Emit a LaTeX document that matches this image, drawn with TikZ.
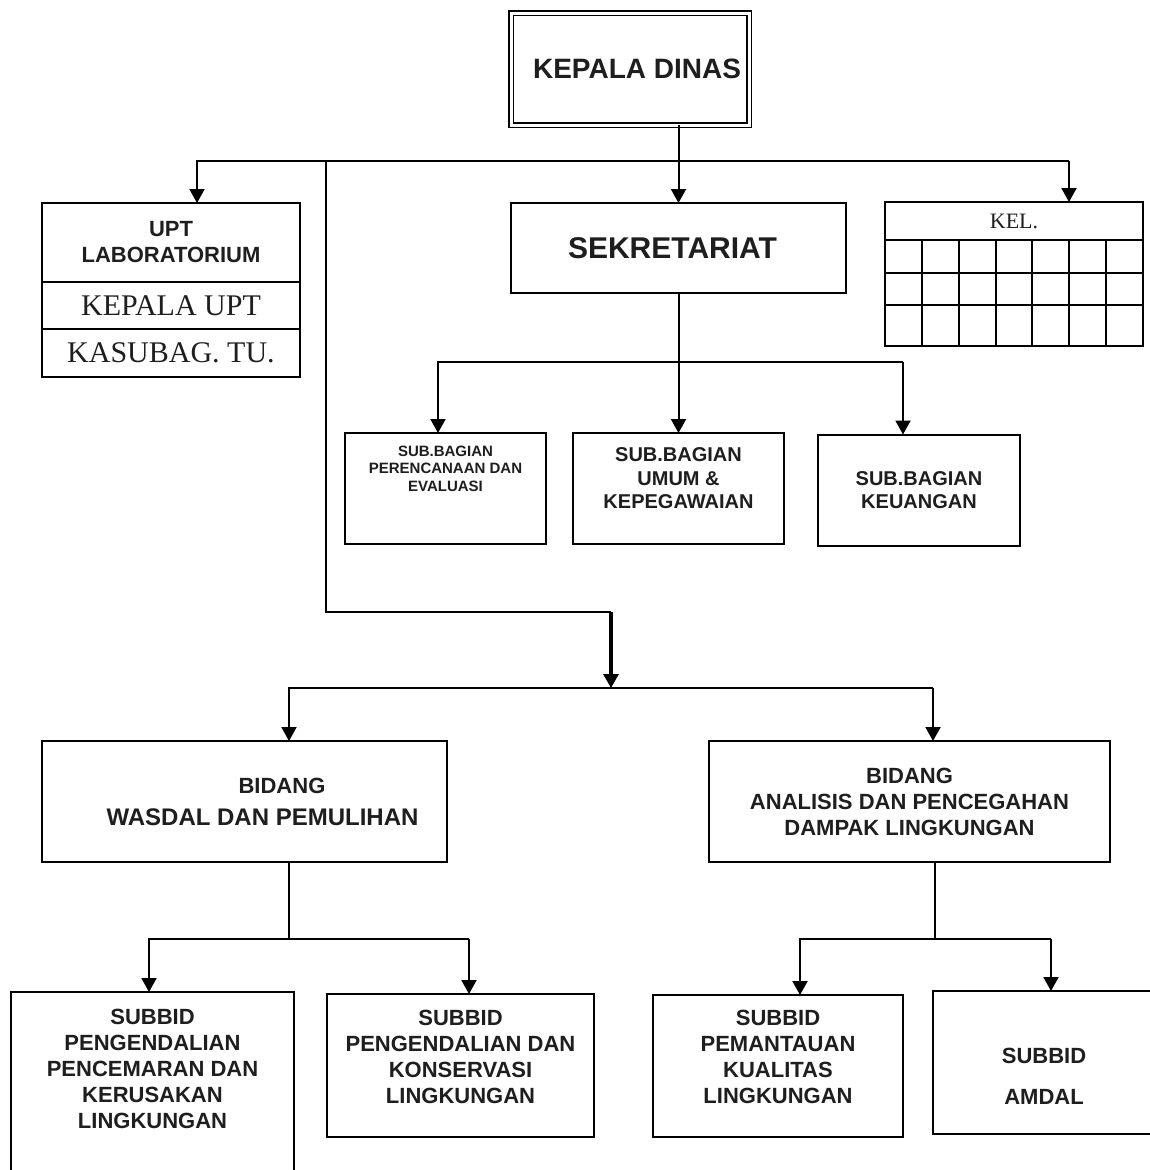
\documentclass[tikz,border=0pt]{standalone}
\usepackage{fontspec}
\newfontfamily\arialfont{Liberation Sans}
\newfontfamily\timesfont{Liberation Serif}
\usetikzlibrary{positioning,arrows.meta}
\definecolor{inkcolor}{HTML}{1E1E1E}
\newcommand\sanssized[2]{\arialfont\bfseries\fontsize{#1}{#2}\selectfont}
\newcommand\serifsized[2]{\timesfont\fontsize{#1}{#2}\selectfont}

\begin{document}
\begin{tikzpicture}[x=1pt, y=-1pt, >={Triangle[width=15pt,length=14pt]},
  every node/.style={inner sep=0pt, outer sep=0pt, align=center, text=inkcolor},
  unitbox/.style={draw, line width=2pt, fill=white},
  headbox/.style={draw, line width=1.6pt, double, double distance=3pt},
  link/.style={line width=2pt},
  thicklink/.style={line width=3.2pt},
  gridline/.style={line width=2pt},
  titletext/.style={font=\sanssized{28}{32}},
  sektext/.style={font=\sanssized{30}{34}},
  headtext/.style={font=\sanssized{22}{26}},
  subtext/.style={font=\sanssized{20}{23.5}},
  smalltext/.style={font=\sanssized{15}{17.5}},
  seriftext/.style={font=\serifsized{30}{34}},
  kelstyle/.style={font=\serifsized{22}{26}}]
  \useasboundingbox[fill=white] (0,0) rectangle (1149,1170);

  % top level
  \node[headbox, titletext, minimum width=238pt, minimum height=112pt] (kd) at (630,69) {\raisebox{-6pt}{\hspace*{14pt}KEPALA DINAS}};
  \node[unitbox, sektext, minimum width=335pt, minimum height=90pt] (sek) at (678.5,248) {\hspace*{-12pt}SEKRETARIAT};

  % UPT
  \node[unitbox, headtext, minimum width=258pt, minimum height=79pt] (upthead) at (171,242.5) {UPT\\LABORATORIUM};
  \node[unitbox, seriftext, minimum width=258pt, minimum height=47pt, anchor=north] (uptkepala) at (upthead.south) {KEPALA UPT};
  \node[unitbox, seriftext, minimum width=258pt, minimum height=48pt, anchor=north] (upttu) at (uptkepala.south) {KASUBAG. TU.};

  % KEL.
  \node[unitbox, kelstyle, minimum width=258pt, minimum height=38pt] (kel) at (1014,221) {KEL.};
  \draw[gridline] (kel.south west) rectangle ++(258,106);
  \foreach \c in {1,...,6}
    \draw[gridline] ([xshift=\c*36.857pt]kel.south west) -- ++(0,106);
  \foreach \r in {33,65}
    \draw[gridline] ([yshift=-\r pt]kel.south west) -- ++(258,0);

  % sub bagian
  \node[unitbox, minimum width=201pt, minimum height=111pt,
    label={[smalltext, anchor=north, yshift=-13pt]north:{SUB.BAGIAN\\PERENCANAAN DAN\\EVALUASI}}] (perenc) at (445.5,488.5) {};
  \node[unitbox, minimum width=211pt, minimum height=111pt,
    label={[subtext, anchor=north, yshift=-15pt]north:{SUB.BAGIAN\\UMUM \&\\KEPEGAWAIAN}}] (umum) at (678.5,488.5) {};
  \node[unitbox, subtext, minimum width=202pt, minimum height=111pt] (keu) at (919,490) {SUB.BAGIAN\\KEUANGAN};

  % bidang
  \node[unitbox, headtext, minimum width=405pt, minimum height=121pt] (wasdal) at (244.5,801.5)
    {\hspace*{75pt}BIDANG\\[6pt]\hspace*{36pt}{\fontsize{24}{28}\selectfont WASDAL DAN PEMULIHAN}};
  \node[unitbox, headtext, minimum width=401pt, minimum height=121pt] (analisis) at (909.5,801.5) {BIDANG\\ANALISIS DAN PENCEGAHAN\\DAMPAK LINGKUNGAN};

  % subbid
  \node[unitbox, minimum width=283pt, minimum height=200pt, anchor=north,
    label={[headtext, anchor=north, yshift=-17pt]north:{SUBBID\\PENGENDALIAN\\PENCEMARAN DAN\\KERUSAKAN\\LINGKUNGAN}}] (sbpencemaran) at (152.5,992) {};
  \node[unitbox, minimum width=267pt, minimum height=143pt, anchor=north,
    label={[headtext, anchor=north, yshift=-16pt]north:{SUBBID\\PENGENDALIAN DAN\\KONSERVASI\\LINGKUNGAN}}] (sbkonservasi) at (460.5,994) {};
  \node[unitbox, minimum width=250pt, minimum height=142pt, anchor=north,
    label={[headtext, anchor=north, yshift=-15pt]north:{SUBBID\\PEMANTAUAN\\KUALITAS\\LINGKUNGAN}}] (sbkualitas) at (778,995) {};
  \node[unitbox, minimum width=232pt, minimum height=143pt, anchor=north,
    label={[font=\sanssized{22}{41}, anchor=north, yshift=-57pt, xshift=-5pt]north:{SUBBID\\AMDAL}}] (sbamdal) at (1049,991) {};

  % connectors from kepala dinas
  \coordinate (busTopL) at (197,161);
  \coordinate (busTopR) at (1069,161);
  \coordinate (branch) at (326,161);
  \draw[link,->] (kd.south -| sek.north) -- (sek.north);
  \draw[link,->] (busTopR) -- (busTopL) -- (busTopL |- upthead.north);
  \draw[link,->] (busTopR) -- (busTopR |- kel.north);

  % route to bidang
  \coordinate (bend) at (326,612);
  \coordinate (drop) at (611,612);
  \coordinate (busBid) at (611,688);
  \coordinate (busBidL) at (289,688);
  \coordinate (busBidR) at (933,688);
  \draw[link] (branch) -- (bend) -- (drop);
  \draw[thicklink,->] (drop) -- (busBid);
  \draw[link,->] (busBidR) -- (busBidL) -- (busBidL |- wasdal.north);
  \draw[link,->] (busBidR) -- (busBidR |- analisis.north);

  % sekretariat
  \coordinate (busSekL) at (438,362);
  \coordinate (busSekR) at (903,362);
  \draw[link,->] (sek.south) -- (umum.north);
  \draw[link,->] (busSekR) -- (busSekL) -- (busSekL |- perenc.north);
  \draw[link,->] (busSekR) -- (busSekR |- keu.north);

  % wasdal
  \coordinate (wasJoin) at (289,939);
  \coordinate (busWasL) at (149,939);
  \coordinate (busWasR) at (469,939);
  \draw[link] (wasdal.south -| wasJoin) -- (wasJoin);
  \draw[link,->] (busWasR) -- (busWasL) -- (busWasL |- sbpencemaran.north);
  \draw[link,->] (busWasR) -- (busWasR |- sbkonservasi.north);

  % analisis
  \coordinate (anaJoin) at (935,939);
  \coordinate (busAnaL) at (800,939);
  \coordinate (busAnaR) at (1051,939);
  \draw[link] (analisis.south -| anaJoin) -- (anaJoin);
  \draw[link,->] (busAnaR) -- (busAnaL) -- (busAnaL |- sbkualitas.north);
  \draw[link,->] (busAnaR) -- (busAnaR |- sbamdal.north);
\end{tikzpicture}
\end{document}
